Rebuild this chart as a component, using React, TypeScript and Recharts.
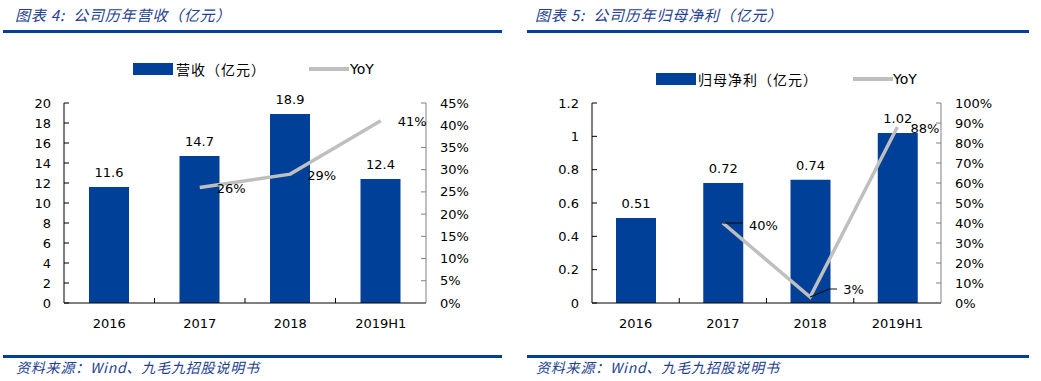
import React from 'react';
import { ComposedChart, Bar, Line, XAxis, YAxis, LabelList } from 'recharts';

const CATEGORIES = ['2016', '2017', '2018', '2019H1'];
const REVENUE = [11.6, 14.7, 18.9, 12.4];
const REVENUE_YOY = [null, 26, 29, 41];
const PROFIT = [0.51, 0.72, 0.74, 1.02];
const PROFIT_YOY = [null, 40, 3, 88];

const REVENUE_TICKS = [0, 2, 4, 6, 8, 10, 12, 14, 16, 18, 20];
const REVENUE_YOY_TICKS = [0, 5, 10, 15, 20, 25, 30, 35, 40, 45];
const PROFIT_TICKS = [0, 0.2, 0.4, 0.6, 0.8, 1, 1.2];
const PROFIT_YOY_TICKS = [0, 10, 20, 30, 40, 50, 60, 70, 80, 90, 100];

const BLUE = '#004098';
const GRAY = '#bfbfbf';
const TITLE_COLOR = '#23408e';
const FONT = '"DejaVu Sans", Verdana, sans-serif';
const CJK = '"Noto Sans CJK SC", sans-serif';
const TICK_MARGIN = 13;

type LabelStyle = { dx: number; dy: number; leader?: number[][] } | null;

// where each YoY label sits relative to its point
const REVENUE_LABELS: LabelStyle[] = [null, { dx: 17, dy: 6 }, { dx: 17, dy: 6 }, { dx: 17, dy: 5 }];
const PROFIT_LABELS: LabelStyle[] = [
  null,
  { dx: 26, dy: 7, leader: [[0, 0], [20, 0]] },
  { dx: 33, dy: -3, leader: [[0, 0], [19, -8], [27, -8]] },
  { dx: 13, dy: 6 },
];

const makeData = (values: number[], yoy: (number | null)[]) =>
  CATEGORIES.map((name, i) => ({ name, value: values[i], yoy: yoy[i] }));

const LeftTick = (props: any) => {
  const { x, y, payload } = props;
  const ax = x + TICK_MARGIN;
  return (
    <g>
      <line x1={ax} x2={ax + 5} y1={y} y2={y} stroke="#000" />
      <text x={x} y={y + 4.5} textAnchor="end" fontSize={13} fontFamily={FONT} fill="#000">
        {payload.value}
      </text>
    </g>
  );
};

const RightTick = (props: any) => {
  const { x, y, payload } = props;
  const ax = x - 14;
  return (
    <g>
      <line x1={ax} x2={ax - 5} y1={y} y2={y} stroke="#808080" />
      <text x={x} y={y + 4.5} textAnchor="start" fontSize={13} fontFamily={FONT} fill="#000">
        {payload.value}%
      </text>
    </g>
  );
};

const makeBottomTick = (band: number) => (props: any) => {
  const { x, y, payload, index } = props;
  const ay = y - 15;
  return (
    <g>
      {index < CATEGORIES.length - 1 && (
        <line x1={x + band / 2} x2={x + band / 2} y1={ay} y2={ay - 5} stroke="#000" />
      )}
      <text x={x} y={y + 10} textAnchor="middle" fontSize={13} fontFamily={FONT} fill="#000">
        {payload.value}
      </text>
    </g>
  );
};

const makeYoyLabel = (styles: LabelStyle[]) => (props: any) => {
  const { x, y, value, index } = props;
  const s = styles[index];
  if (value == null || !s) return null;
  return (
    <g>
      {s.leader && (
        <polyline
          points={s.leader.map(([px, py]) => `${x + px},${y + py}`).join(' ')}
          fill="none"
          stroke="#111"
          strokeWidth={1.2}
        />
      )}
      <text x={x + s.dx} y={y + s.dy} fontSize={13} fontFamily={FONT} fill="#000">
        {value}%
      </text>
    </g>
  );
};

interface PanelProps {
  left: number;
  width: number;
  title: string;
  barName: string;
  data: { name: string; value: number; yoy: number | null }[];
  ticks: number[];
  yoyTicks: number[];
  margin: { top: number; right: number; bottom: number; left: number };
  band: number;
  labels: LabelStyle[];
  legend: { top: number; rect: number; text: number; line: number; yoy: number };
  lineStart: number;
  lineEnd: number;
}

function Panel(p: PanelProps) {
  return (
    <div style={{ position: 'absolute', left: p.left, top: 0, width: p.width, height: 381 }}>
      <div
        style={{
          position: 'absolute', left: 15, top: 4, fontFamily: CJK, fontStyle: 'italic',
          fontSize: 15, letterSpacing: 0.8, color: TITLE_COLOR, whiteSpace: 'pre',
        }}
      >
        {p.title}
      </div>
      <div style={{ position: 'absolute', left: p.lineStart, top: 30, width: p.lineEnd - p.lineStart, height: 3, background: BLUE }} />

      <div style={{ position: 'absolute', left: p.legend.rect, top: p.legend.top - 6, width: 40, height: 12, background: BLUE }} />
      <div style={{ position: 'absolute', left: p.legend.text, top: p.legend.top - 10, fontFamily: CJK, fontSize: 14, letterSpacing: 1, lineHeight: '20px', color: '#000', whiteSpace: 'nowrap' }}>
        {p.barName}
      </div>
      <div style={{ position: 'absolute', left: p.legend.line, top: p.legend.top - 2, width: 40, height: 4, background: GRAY }} />
      <div style={{ position: 'absolute', left: p.legend.yoy, top: p.legend.top - 10, fontFamily: FONT, fontSize: 14, lineHeight: '20px', color: '#000' }}>
        YoY
      </div>

      <div style={{ position: 'absolute', left: 0, top: 0 }}>
        <ComposedChart width={p.width} height={381} data={p.data} margin={p.margin}>
          <XAxis
            dataKey="name"
            axisLine={{ stroke: '#000' }}
            tickLine={false}
            tickSize={0}
            tickMargin={15}
            tick={makeBottomTick(p.band)}
            interval={0}
          />
          <YAxis
            yAxisId="left"
            width={40}
            domain={[p.ticks[0], p.ticks[p.ticks.length - 1]]}
            ticks={p.ticks}
            axisLine={{ stroke: '#000' }}
            tickLine={false}
            tickSize={0}
            tickMargin={TICK_MARGIN}
            tick={LeftTick}
            interval={0}
          />
          <YAxis
            yAxisId="right"
            orientation="right"
            width={50}
            domain={[0, p.yoyTicks[p.yoyTicks.length - 1]]}
            ticks={p.yoyTicks}
            axisLine={{ stroke: '#808080' }}
            tickLine={false}
            tickSize={0}
            tickMargin={14}
            tick={RightTick}
            interval={0}
          />
          <Bar yAxisId="left" dataKey="value" fill={BLUE} barSize={40} isAnimationActive={false}>
            <LabelList dataKey="value" position="top" offset={10} fontSize={13} fontFamily={FONT} fill="#000" />
          </Bar>
          <Line
            yAxisId="right"
            dataKey="yoy"
            stroke={GRAY}
            strokeWidth={3.5}
            dot={false}
            activeDot={false}
            isAnimationActive={false}
          >
            <LabelList dataKey="yoy" content={makeYoyLabel(p.labels)} />
          </Line>
        </ComposedChart>
      </div>

      <div style={{ position: 'absolute', left: p.lineStart, top: 355, width: p.lineEnd - p.lineStart, height: 3, background: BLUE }} />
      <div
        style={{
          position: 'absolute', left: 16, top: 357, fontFamily: CJK, fontStyle: 'italic',
          fontSize: 14, letterSpacing: 0.8, color: TITLE_COLOR, whiteSpace: 'nowrap',
        }}
      >
        资料来源：Wind、九毛九招股说明书
      </div>
    </div>
  );
}

export default function App() {
  return (
    <div style={{ position: 'absolute', left: 0, top: 0, width: 1041, height: 381, background: '#fff', overflow: 'hidden' }}>
      <Panel
        left={0}
        width={520}
        title="图表 4:  公司历年营收（亿元）"
        barName="营收（亿元）"
        data={makeData(REVENUE, REVENUE_YOY)}
        ticks={REVENUE_TICKS}
        yoyTicks={REVENUE_YOY_TICKS}
        margin={{ top: 103, right: 44, bottom: 48, left: 24 }}
        band={90.5}
        labels={REVENUE_LABELS}
        legend={{ top: 69, rect: 133, text: 176, line: 309, yoy: 350 }}
        lineStart={3}
        lineEnd={502}
      />
      <Panel
        left={520}
        width={521}
        title="图表 5:  公司历年归母净利（亿元）"
        barName="归母净利（亿元）"
        data={makeData(PROFIT, PROFIT_YOY)}
        ticks={PROFIT_TICKS}
        yoyTicks={PROFIT_YOY_TICKS}
        margin={{ top: 103, right: 50, bottom: 48, left: 32 }}
        band={87.25}
        labels={PROFIT_LABELS}
        legend={{ top: 79, rect: 136, text: 178, line: 333, yoy: 373 }}
        lineStart={7}
        lineEnd={509}
      />
    </div>
  );
}
